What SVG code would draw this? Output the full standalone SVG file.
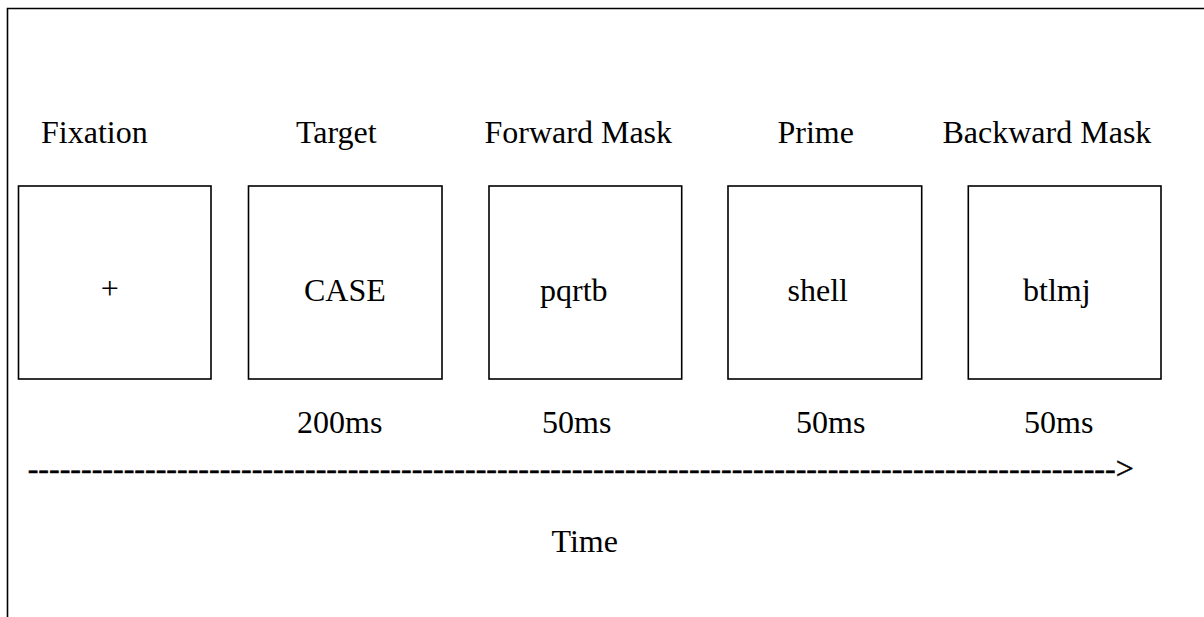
<svg xmlns="http://www.w3.org/2000/svg" width="1204" height="617" viewBox="0 0 1204 617">
<style>
.t{font-size:32px;fill:#000}
.box{fill:#fff;stroke:#000;stroke-width:1.6}
.frame{fill:none;stroke:#000;stroke-width:1.6}
</style>
<rect width="1204" height="617" fill="#fff"/>
<path class="frame" d="M7.5 617 V8.5 H1204"/>
<g font-family="'Liberation Serif', Tinos, 'Times New Roman', 'DejaVu Serif', serif" class="t">
<g id="fixation">
<text x="41" y="143">Fixation</text>
<rect class="box" x="18.5" y="186" width="192.5" height="193"/>
<text x="100.7" y="299">+</text>
</g>
<g id="target">
<text x="296" y="143">Target</text>
<rect class="box" x="248.5" y="186" width="193.5" height="193"/>
<text x="304" y="301">CASE</text>
<text x="297" y="433">200ms</text>
</g>
<g id="forward-mask">
<text x="484.5" y="142.5">Forward Mask</text>
<rect class="box" x="489" y="186" width="192.7" height="193"/>
<text x="540" y="301">pqrtb</text>
<text x="542" y="433">50ms</text>
</g>
<g id="prime">
<text x="777.5" y="142.5">Prime</text>
<rect class="box" x="728" y="186" width="193.7" height="193"/>
<text x="787.5" y="301">shell</text>
<text x="796" y="433">50ms</text>
</g>
<g id="backward-mask">
<text x="942.5" y="142.5">Backward Mask</text>
<rect class="box" x="968.3" y="186" width="192.7" height="193"/>
<text x="1023" y="301">btlmj</text>
<text x="1024" y="433">50ms</text>
</g>
<g id="connectors">
<text x="27.7" y="479" textLength="1106" lengthAdjust="spacing" stroke="#000" stroke-width="0.5">------------------------------------------------------------------------------------------------------&gt;</text>
</g>
<text x="551.5" y="552">Time</text>
</g>
</svg>
